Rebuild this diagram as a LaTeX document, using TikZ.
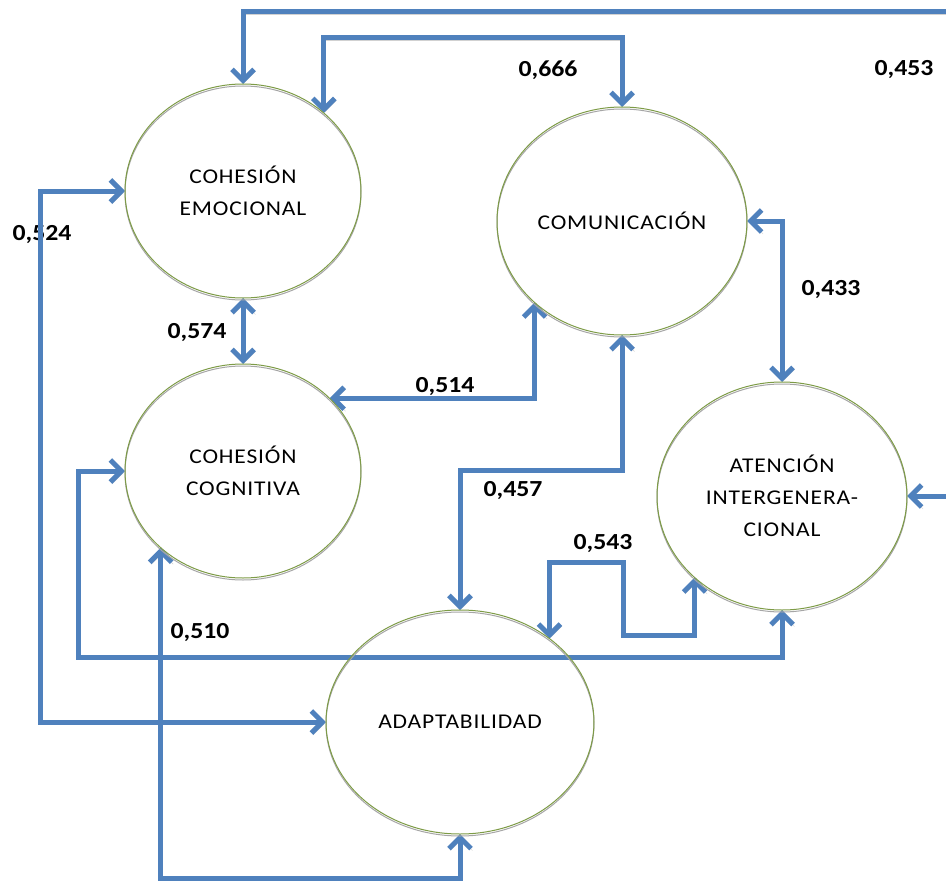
\documentclass[tikz,border=0pt]{standalone}
\usepackage{fontspec}
\setmainfont{Carlito}[FakeStretch=1.12]
\newfontfamily\varfont{Carlito}[FakeStretch=1.12, LetterSpace=4]
\usetikzlibrary{shapes.geometric,arrows.meta}
\pgfdeclarelayer{back}
\pgfdeclarelayer{under}
\pgfsetlayers{back,under,main}
\definecolor{linkblue}{RGB}{79,129,189}
\definecolor{rimgreen}{RGB}{125,155,70}

\begin{document}
\begin{tikzpicture}[x=1pt,y=-1pt,
  var/.style={ellipse, draw=rimgreen, line width=1pt, inner sep=0pt, outer sep=0pt,
    align=center, font=\varfont\fontsize{21}{32}\selectfont, text=black,
    preaction={draw=black!35, line width=1pt, transform canvas={shift={(0pt,-2pt)}}}},
  link/.style={draw=linkblue, line width=5pt,
    {Straight Barb[length=11pt,width=22pt]}-{Straight Barb[length=11pt,width=22pt]},
    preaction={draw=black!45, opacity=.4, transform canvas={shift={(1.5pt,-2pt)}}}},
  coef/.style={font=\fontsize{23}{23}\selectfont\bfseries, inner sep=0pt}
]
\begin{pgfonlayer}{back}
  \fill[white] (0,0) rectangle (946,883);
\end{pgfonlayer}
\useasboundingbox (0,0) rectangle (946,883);

% the five constructs
\node[var, minimum width=236pt, minimum height=214pt] (ce)  at (243,191) {COHESIÓN\\EMOCIONAL};
\node[var, minimum width=250pt, minimum height=228pt] (com) at (622,221) {COMUNICACIÓN};
\node[var, minimum width=236pt, minimum height=214pt] (cc)  at (243,471) {COHESIÓN\\COGNITIVA};
\node[var, minimum width=250pt, minimum height=228pt] (at)  at (782,496) {ATENCIÓN\\INTERGENERA-\\CIONAL};
\node[var, minimum width=268pt, minimum height=224pt] (ad)  at (460,722) {ADAPTABILIDAD};

% routing levels for the elbow connectors
\coordinate (r453)  at (964,12);
\coordinate (r666)  at (0,38);
\coordinate (r524)  at (40,0);
\coordinate (r457)  at (0,470);
\coordinate (r543a) at (623,562);
\coordinate (r543b) at (623,635);
\coordinate (r510)  at (78,657);
\coordinate (rbot)  at (0,878);

\begin{pgfonlayer}{under}
  % correlation coefficients
  \node[coef] (l453) at (904,70)  {0,453};
  \node[coef] (l666) at (548,70)  {0,666};
  \node[coef] (l524) at (42,235)  {0,524};
  \node[coef] (l574) at (197,333) {0,574};
  \node[coef] (l514) at (445,387) {0,514};
  \node[coef] (l433) at (831,290) {0,433};
  \node[coef] (l457) at (513,491) {0,457};
  \node[coef] (l543) at (603,544) {0,543};
  \node[coef] (l510) at (200,633) {0,510};

  % two-headed links between constructs
  \draw[link] (at.east) -| (r453) -| (ce.north);
  \draw[link] (ce.44.5) -- (ce.44.5 |- r666) -| (com.north);
  \draw[link] (ce.west) -| (r524 |- ad.west) -- (ad.west);
  \draw[link] (ce.south) -- (cc.north);
  \draw[link] (cc.40.2) -| (com.223.3);
  \draw[link] (com.east) -| (at.north);
  \draw[link] (com.south) |- (r457 -| ad.north) -- (ad.north);
  \draw[link] (ad.43.25) |- (r543a) -- (r543b) -| (at.223.9);
  \draw[link] (cc.west) -| (r510) -| (at.south);
  \draw[link] (cc.223.2) |- (rbot -| ad.south) -- (ad.south);
\end{pgfonlayer}
\end{tikzpicture}
\end{document}
